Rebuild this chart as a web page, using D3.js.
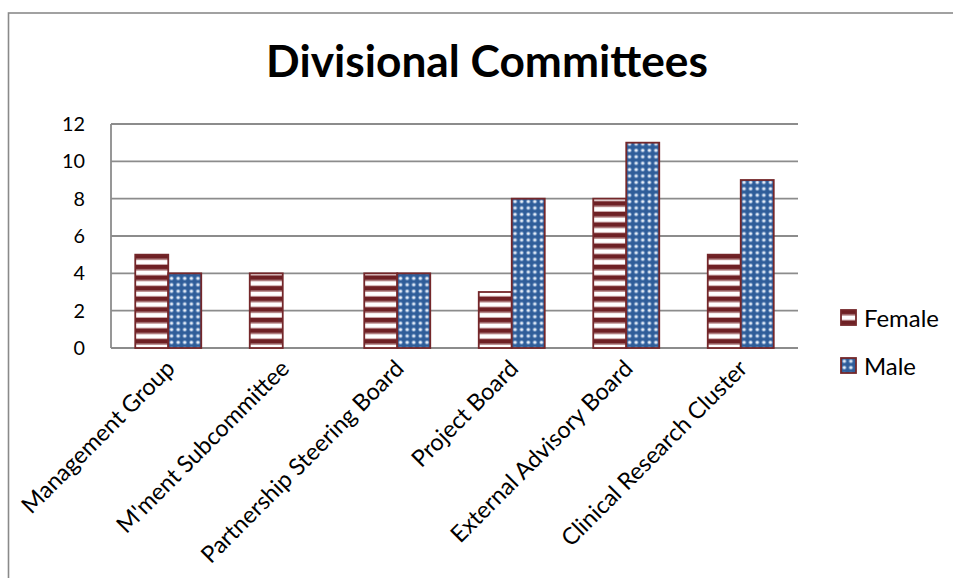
<!DOCTYPE html>
<html>
<head>
<meta charset="utf-8">
<script src="https://cdn.jsdelivr.net/npm/d3@7"></script>
<style>
  html, body { margin: 0; padding: 0; background: #fff; }
  svg { display: block; font-family: Lato, "Open Sans", sans-serif; }
</style>
</head>
<body>
<svg id="chart" width="953" height="578"></svg>
<script>
// Committee membership by gender
const categories = [
  "Management Group",
  "M'ment Subcommittee",
  "Partnership Steering Board",
  "Project Board",
  "External Advisory Board",
  "Clinical Research Cluster"
];
const seriesNames = ["Female", "Male"];
const femaleValues = [5, 4, 4, 3, 8, 5];
const maleValues = [4, 0, 4, 8, 11, 9];
const yTicks = [0, 2, 4, 6, 8, 10, 12];
const titleText = "Divisional Committees";

const svg = d3.select("#chart");
const plot = { left: 111, right: 798, top: 124, bottom: 348 };

const gridColor = "#8c8c8c";
const barEdge = "#74272a";

// Font size that makes a sample string span a given width
function fitSize(text, width, weight) {
  const probe = svg.append("text")
    .attr("font-size", 100).attr("font-weight", weight || "normal").text(text);
  const w = probe.node().getComputedTextLength();
  probe.remove();
  return 100 * width / w;
}

// Fill patterns: striped for Female, dotted for Male
const defs = svg.append("defs");
const stripe = defs.append("pattern")
  .attr("id", "pat-female")
  .attr("patternUnits", "userSpaceOnUse")
  .attr("width", 8).attr("height", 10.6);
stripe.append("rect").attr("width", 8).attr("height", 10.6).attr("fill", "#ffffff");
stripe.append("rect").attr("y", 0).attr("width", 8).attr("height", 4.6).attr("fill", "#6e2024");
stripe.append("rect").attr("y", 4.6).attr("width", 8).attr("height", 1.1).attr("fill", "#b98a8c");
stripe.append("rect").attr("y", 9.6).attr("width", 8).attr("height", 1.0).attr("fill", "#c9a3a5");

const dots = defs.append("pattern")
  .attr("id", "pat-male")
  .attr("patternUnits", "userSpaceOnUse")
  .attr("width", 6.6).attr("height", 6.4);
dots.append("rect").attr("width", 6.6).attr("height", 6.4).attr("fill", "#2f5d99");
dots.append("circle").attr("cx", 3.3).attr("cy", 3.2).attr("r", 2.1).attr("fill", "#86a6d0");
dots.append("circle").attr("cx", 3.3).attr("cy", 3.2).attr("r", 1.2).attr("fill", "#f4f7fb");

const fills = { Female: "url(#pat-female)", Male: "url(#pat-male)" };

// Chart frame
svg.append("rect")
  .attr("x", 8.5).attr("y", 13).attr("width", 970).attr("height", 600)
  .attr("fill", "#fff").attr("stroke", "#8a8a8a").attr("stroke-width", 1.6);

// Scales
const x0 = d3.scaleBand().domain(categories).range([plot.left, plot.right]).paddingInner(0).paddingOuter(0);
const barW = 33;
const x1 = d3.scaleBand().domain(seriesNames).range([0, barW * 2]);
const y = d3.scaleLinear().domain([0, 12]).range([plot.bottom, plot.top]);

// Gridlines
svg.append("g")
  .selectAll("line").data(yTicks).join("line")
  .attr("x1", plot.left).attr("x2", plot.right)
  .attr("y1", d => y(d)).attr("y2", d => y(d))
  .attr("stroke", gridColor).attr("stroke-width", 1.8);

// Value axis line
svg.append("line")
  .attr("x1", plot.left).attr("x2", plot.left)
  .attr("y1", y(12)).attr("y2", y(0))
  .attr("stroke", gridColor).attr("stroke-width", 1.8);

// Value axis labels
const tickSize = fitSize("12", 23);
const yAxis = d3.axisLeft(y).tickValues(yTicks).tickSize(0).tickPadding(26);
const yg = svg.append("g").attr("transform", `translate(${plot.left},0)`).call(yAxis);
yg.select(".domain").remove();
yg.selectAll("text").attr("font-size", tickSize).attr("fill", "#000").attr("font-family", "Lato, sans-serif");

// Bars
const rows = categories.map((c, i) => ({ cat: c, Female: femaleValues[i], Male: maleValues[i] }));
const groups = svg.append("g").selectAll("g").data(rows).join("g")
  .attr("transform", d => `translate(${x0(d.cat) + x0.bandwidth() / 2 - barW},0)`);
groups.selectAll("rect")
  .data(d => seriesNames.map(s => ({ s, v: d[s] })).filter(e => e.v > 0))
  .join("rect")
  .attr("x", d => x1(d.s))
  .attr("width", x1.bandwidth())
  .attr("y", d => y(d.v))
  .attr("height", d => y(0) - y(d.v))
  .attr("fill", d => fills[d.s])
  .attr("stroke", barEdge).attr("stroke-width", 1.8);

// Category labels, rotated; baseline ends just below each group centre
const catSize = fitSize(categories[0], 205);
const xAxis = d3.axisBottom(x0).tickSize(0).tickPadding(0);
const xg = svg.append("g").attr("transform", `translate(0,${plot.bottom})`).call(xAxis);
xg.select(".domain").remove();
xg.selectAll("text")
  .attr("font-size", catSize).attr("fill", "#000").attr("font-family", "Lato, sans-serif")
  .attr("text-anchor", "end")
  .attr("y", 0)
  .attr("dy", null)
  .attr("transform", "translate(8,22) rotate(-45)");

// Title
const title = svg.append("text")
  .attr("x", 487).attr("y", 77)
  .attr("text-anchor", "middle")
  .attr("font-weight", "bold")
  .attr("font-size", fitSize(titleText, 442, "bold"))
  .attr("fill", "#000")
  .text(titleText);

// Legend
const legendSize = fitSize("Male", 52);
const legend = svg.append("g").selectAll("g").data(seriesNames).join("g")
  .attr("transform", (d, i) => `translate(841,${310 + i * 48})`);
legend.append("rect")
  .attr("width", 15).attr("height", 15)
  .attr("fill", d => fills[d])
  .attr("stroke", barEdge).attr("stroke-width", 1.8);
legend.append("text")
  .attr("x", 23).attr("y", 8)
  .attr("dy", "0.36em")
  .attr("font-size", legendSize)
  .attr("fill", "#000")
  .text(d => d);
</script>
</body>
</html>
